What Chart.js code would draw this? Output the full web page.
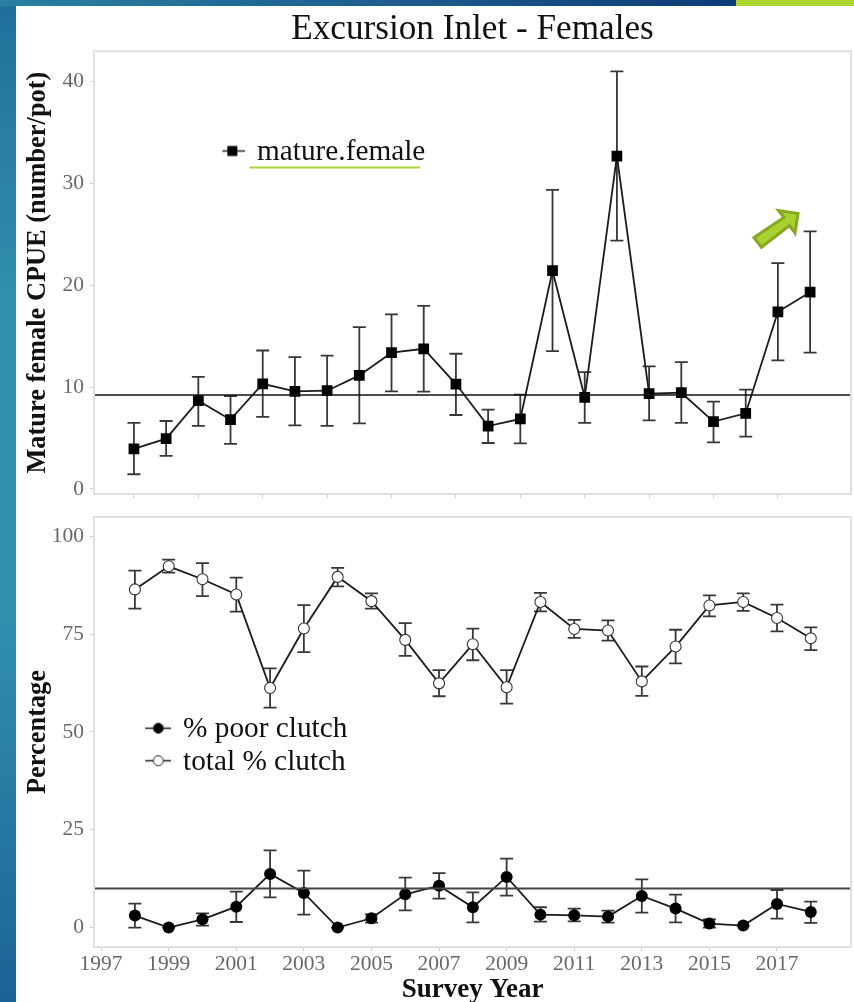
<!DOCTYPE html>
<html>
<head>
<meta charset="utf-8">
<title>Excursion Inlet - Females</title>
<script src="https://cdn.jsdelivr.net/npm/chart.js@4/dist/chart.umd.min.js"></script>
<style>
html,body{margin:0;padding:0;width:854px;height:1002px;overflow:hidden}
body{position:relative;background:linear-gradient(180deg,#1f6f9a 0%,#3391ae 32%,#318fae 62%,#1b6395 100%)}
#topbar{position:absolute;left:0;top:0;width:736px;height:6px;background:linear-gradient(90deg,#2a7fa3 0%,#1f5f8f 50%,#0e3a75 100%)}
#lime{position:absolute;left:736px;top:0;width:118px;height:6px;background:#add62f}
#page{position:absolute;left:16px;top:6px;width:838px;height:996px;background:#fff}
canvas{position:absolute;left:16px;display:block;filter:blur(.35px)}
#c1{top:6px}
#c2{top:508px}
#deco{position:absolute;left:0;top:0;width:854px;height:1002px;pointer-events:none}
</style>
</head>
<body>
<div id="topbar"></div><div id="lime"></div><div id="page"></div>
<canvas id="c1" width="838" height="502"></canvas>
<canvas id="c2" width="838" height="494"></canvas>
<svg id="deco" viewBox="0 0 854 1002">
  <line x1="249.5" y1="167.5" x2="420" y2="167.5" stroke="#a9d433" stroke-width="2.2"/>
  <polygon points="754,237.5 761.5,247.3 789.5,225.5 795,233 798,213.5 778.5,210.5 784,217.5" fill="#a9d231" stroke="#87a81f" stroke-width="3"/>
</svg>
<script>
const chartTitle = "Excursion Inlet - Females";
const topYAxisTitle = "Mature female CPUE (number/pot)";
const bottomYAxisTitle = "Percentage";
const xAxisTitle = "Survey Year";

const topYears = [1997,1998,1999,2000,2001,2002,2003,2004,2005,2006,2007,2008,2009,2010,2011,2012,2013,2014,2015,2016,2017,2018];
const cpue   = [3.93,4.94,8.67,6.8,10.33,9.58,9.65,11.15,13.38,13.77,10.3,6.18,6.87,21.44,9.0,32.7,9.35,9.45,6.61,7.43,17.4,19.33];
const cpueHi = [6.48,6.67,11.0,9.13,13.6,12.95,13.1,15.9,17.14,17.99,13.28,7.79,9.26,29.37,11.48,41.02,12.04,12.46,8.57,9.75,22.18,25.3];
const cpueLo = [1.44,3.24,6.2,4.42,7.07,6.25,6.2,6.44,9.58,9.55,7.26,4.51,4.48,13.54,6.48,24.4,6.74,6.48,4.58,5.13,12.63,13.38];
const cpueMean = 9.22;

const clutchYears = [1998,1999,2000,2001,2002,2003,2004,2005,2006,2007,2008,2009,2010,2011,2012,2013,2014,2015,2016,2017,2018];
const totalClutch   = [86.4,92.3,89.0,85.1,61.2,76.4,89.6,83.4,73.5,62.4,72.4,61.4,83.2,76.3,75.9,62.9,71.8,82.3,83.2,79.1,73.9];
const totalClutchHi = [91.2,94.0,93.1,89.4,66.2,82.4,91.9,85.4,77.8,65.8,76.4,65.8,85.5,78.6,78.5,66.7,76.1,84.9,85.4,82.5,76.7];
const totalClutchLo = [81.5,90.7,84.7,80.7,56.2,70.4,87.2,81.5,69.4,59.1,68.3,57.2,80.8,74.0,73.3,59.2,67.5,79.5,80.9,75.7,70.9];
const poorClutch   = [3.06,0,2.12,5.35,13.7,8.85,0,2.38,8.5,10.7,5.19,12.94,3.31,3.14,2.8,8.08,4.85,1.02,0.51,6.03,3.99];
const poorClutchHi = [6.1,0,3.65,9.2,19.75,14.57,0,3.4,12.77,13.9,9.02,17.6,5.19,4.85,4.34,12.34,8.43,2.12,0.51,9.6,6.64];
const poorClutchLo = [0,0,0.5,1.43,7.74,3.31,0,1.28,4.42,7.4,1.35,8.18,1.53,1.6,1.28,3.83,1.35,0,0.51,2.3,1.18];
const poorMean = 10;

const topYTicks = [0,10,20,30,40];
const bottomYTicks = [0,25,50,75,100];
const xTicksTop = [1997,1999,2001,2003,2005,2007,2009,2011,2013,2015,2017];
const xTicksBottom = [1997,1999,2001,2003,2005,2007,2009,2011,2013,2015,2017];
const topLegendLabels = ["mature.female"];
const bottomLegendLabels = ["% poor clutch","total % clutch"];

const SERIF = '"Liberation Serif","Times New Roman",serif';
const TICK = '#686868', PANEL = '#e0e0e0', INK = '#1c1c1c';

const pts = (xs, ys) => xs.map((x, i) => ({x, y: ys[i]}));

const errorBars = {
  id: 'errorBars',
  beforeDatasetsDraw(chart) {
    const {ctx, scales: {x, y}} = chart;
    ctx.save();
    ctx.strokeStyle = '#383838';
    ctx.lineWidth = 1.8;
    chart.data.datasets.forEach(d => {
      if (!d.errHi) return;
      d.data.forEach((p, i) => {
        const px = x.getPixelForValue(p.x), h = y.getPixelForValue(d.errHi[i]), l = y.getPixelForValue(d.errLo[i]);
        ctx.beginPath();
        ctx.moveTo(px, h); ctx.lineTo(px, l);
        ctx.moveTo(px - 6.5, h); ctx.lineTo(px + 6.5, h);
        ctx.moveTo(px - 6.5, l); ctx.lineTo(px + 6.5, l);
        ctx.stroke();
      });
    });
    ctx.restore();
  }
};
const panelBorder = {
  id: 'panelBorder',
  afterDraw(chart) {
    const {ctx, chartArea: a} = chart;
    ctx.save();
    ctx.strokeStyle = PANEL; ctx.lineWidth = 2;
    ctx.strokeRect(a.left, a.top, a.right - a.left, a.bottom - a.top);
    ctx.restore();
  }
};
const legendPlace = (x, y) => ({
  id: 'legendPlace',
  afterLayout(chart) {
    const p = chart.legend.options.labels.padding;
    chart.legend.left = x - p;
    chart.legend.top = y - p;
  }
});
function symbol(kind) {
  const c = document.createElement('canvas');
  c.width = 26; c.height = 16;
  const g = c.getContext('2d');
  const my = 6.5;
  g.strokeStyle = '#222'; g.lineWidth = 1.5;
  g.beginPath(); g.moveTo(0, my); g.lineTo(26, my); g.stroke();
  if (kind === 'square') { g.fillStyle = '#000'; g.fillRect(8, my - 5, 10, 10); }
  else {
    g.beginPath(); g.arc(13, my, 5, 0, Math.PI * 2);
    g.fillStyle = kind === 'open' ? '#fff' : '#000'; g.fill();
    g.lineWidth = 1; g.stroke();
  }
  return c;
}
function legendOpts(labels, kinds, size, pad) {
  return {
    display: true, position: 'chartArea', align: 'start',
    labels: {
      usePointStyle: true, pointStyleWidth: 20, padding: pad, color: '#111',
      font: {family: SERIF, size},
      generateLabels: () => labels.map((text, i) => ({
        text, pointStyle: symbol(kinds[i]), fillStyle: '#000', strokeStyle: '#000',
        lineWidth: 0, hidden: false, datasetIndex: i, fontColor: '#111'
      }))
    }
  };
}
function scaleOpts(cfg) {
  return {
    x: {
      type: 'linear', min: cfg.xMin, max: cfg.xMax,
      border: {display: false},
      afterFit: s => { s.height = cfg.xBox; s.paddingLeft = 0; s.paddingRight = 0; },
      afterBuildTicks: s => { s.ticks = cfg.xTicks.map(value => ({value})); },
      grid: {drawOnChartArea: false, drawTicks: true, tickLength: 4, color: '#cfcfcf'},
      ticks: {
        display: cfg.xLabels, color: TICK, padding: 0, maxRotation: 0, autoSkip: false,
        font: {family: SERIF, size: 21.5}, callback: v => String(v)
      },
      title: cfg.xTitle ? {display: true, text: cfg.xTitle, color: '#111', padding: {top: 0, bottom: 0},
        font: {family: SERIF, size: 27, weight: 'bold', lineHeight: 0.85}} : {display: false}
    },
    y: {
      type: 'linear', min: cfg.yMin, max: cfg.yMax,
      border: {display: false},
      afterFit: s => { s.width = 78; s.paddingTop = 0; s.paddingBottom = 0; },
      afterBuildTicks: s => { s.ticks = cfg.yTicks.map(value => ({value})); },
      grid: {drawOnChartArea: false, drawTicks: true, tickLength: 4, color: '#cfcfcf'},
      ticks: {color: TICK, padding: 6, font: {family: SERIF, size: 21.5}, callback: v => String(v)},
      title: {display: true, text: cfg.yTitle, color: '#111', padding: {top: 6, bottom: 0},
        font: {family: SERIF, size: 26.4, weight: 'bold'}}
    }
  };
}
function hline(xMin, xMax, v, color, w) {
  return {type: 'line', data: [{x: xMin, y: v}, {x: xMax, y: v}], borderColor: color, borderWidth: w, pointRadius: 0};
}

const topXMin = 1995.76, topXMax = 2019.27;
new Chart(document.getElementById('c1'), {
  type: 'line',
  data: {datasets: [
    hline(topXMin, topXMax, cpueMean, '#111', 1.6),
    {label: topLegendLabels[0], data: pts(topYears, cpue), errHi: cpueHi, errLo: cpueLo,
     borderColor: INK, borderWidth: 1.8, tension: 0, pointStyle: 'rect', pointRadius: 7.6,
     pointBackgroundColor: '#000', pointBorderColor: '#000', pointBorderWidth: 0}
  ]},
  options: {
    responsive: false, animation: false,
    layout: {autoPadding: false, padding: {top: 3, right: 3, bottom: 0, left: 0}},
    plugins: {
      title: {display: true, fullSize: false, text: chartTitle, color: '#111', padding: 0, font: {family: SERIF, size: 35.2, weight: 'normal'}},
      legend: legendOpts(topLegendLabels, ['square'], 29.3, 0),
      tooltip: {enabled: false}
    },
    scales: scaleOpts({xMin: topXMin, xMax: topXMax, xBox: 14, xTicks: xTicksTop, xLabels: false,
      yMin: -0.5, yMax: 43, yTicks: topYTicks, yTitle: topYAxisTitle})
  },
  plugins: [errorBars, panelBorder, legendPlace(206.35, 131.85)]
});

const botXMin = 1996.79, botXMax = 2019.19;
new Chart(document.getElementById('c2'), {
  type: 'line',
  data: {datasets: [
    hline(botXMin, botXMax, poorMean, '#444', 2),
    {label: bottomLegendLabels[0], data: pts(clutchYears, poorClutch), errHi: poorClutchHi, errLo: poorClutchLo,
     borderColor: INK, borderWidth: 1.8, tension: 0, pointStyle: 'circle', pointRadius: 6,
     pointBackgroundColor: '#000', pointBorderColor: '#000', pointBorderWidth: 0},
    {label: bottomLegendLabels[1], data: pts(clutchYears, totalClutch), errHi: totalClutchHi, errLo: totalClutchLo,
     borderColor: INK, borderWidth: 1.8, tension: 0, pointStyle: 'circle', pointRadius: 5.5,
     pointBackgroundColor: '#fff', pointBorderColor: '#333', pointBorderWidth: 1.1}
  ]},
  options: {
    responsive: false, animation: false,
    layout: {autoPadding: false, padding: {top: 9, right: 3, bottom: 0, left: 0}},
    plugins: {
      legend: legendOpts(bottomLegendLabels, ['filled', 'open'], 29.3, 3.2),
      title: {display: false},
      tooltip: {enabled: false}
    },
    scales: scaleOpts({xMin: botXMin, xMax: botXMax, xBox: 55, xTicks: xTicksBottom, xLabels: true, xTitle: xAxisTitle,
      yMin: -4.96, yMax: 104.9, yTicks: bottomYTicks, yTitle: bottomYAxisTitle})
  },
  plugins: [errorBars, panelBorder, legendPlace(132.35, 207.1)]
});
</script>
</body>
</html>
